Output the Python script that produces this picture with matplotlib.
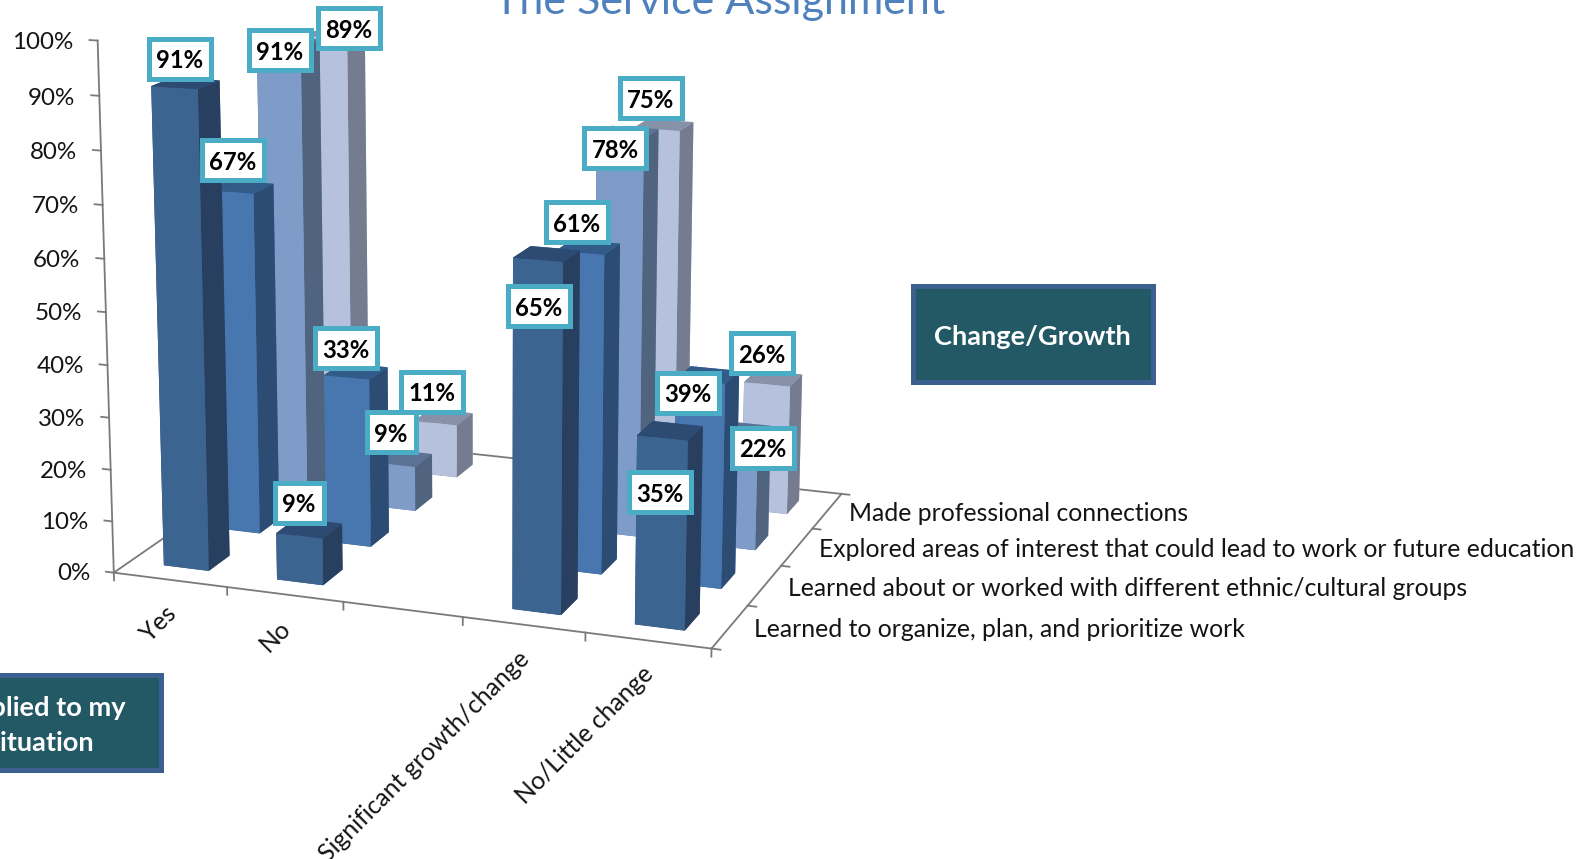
import matplotlib
matplotlib.use('Agg')
import matplotlib.pyplot as plt
from matplotlib.patches import Rectangle
from mpl_toolkits.mplot3d import proj3d

plt.rcParams['font.family'] = ['Lato', 'DejaVu Sans']

W, H = 1591, 859

categories = ['Yes', 'No', '', 'Significant growth/change', 'No/Little change']
series_names = ['Learned to organize, plan, and prioritize work',
                'Learned about or worked with different ethnic/cultural groups',
                'Explored areas of interest that could lead to work or future education',
                'Made professional connections']
organize = [91, 9, None, 65, 35]
ethnic = [67, 33, None, 61, 39]
explored = [91, 9, None, 78, 22]
connections = [89, 11, None, 75, 26]
z_ticks = [0, 10, 20, 30, 40, 50, 60, 70, 80, 90, 100]

rows = [organize, ethnic, explored, connections]

# label box centres in pixels, these were dragged by hand in the original
label_xy = [[(180, 59), (299, 503), None, (539, 306), (660, 492)],
            [(233, 160), (346, 348), None, (577, 222), (688, 393)],
            [(280, 50), (391, 432), None, (615, 148), (763, 448)],
            [(349, 28), (432, 392), None, (651, 98), (762, 353)]]

row_colors = [('#3c6491', '#283f5f', '#2c4a72'),
              ('#4877b0', '#2d4c73', '#325b8a'),
              ('#7f9bc8', '#50637f', '#5c7295'),
              ('#b6c2dd', '#757c90', '#8791a7')]
line_color = '#7a7a7a'
text_color = '#141414'
teal = '#4bacc6'


def px_text(x, y, s, **kw):
    return fig.text(x / W, 1 - y / H, s, **kw)


def px_box(x0, y0, x1, y1, **kw):
    r = Rectangle((x0 / W, 1 - y1 / H), (x1 - x0) / W, (y1 - y0) / H,
                  transform=fig.transFigure, **kw)
    fig.add_artist(r)


def data_px(x, y, z):
    # where a 3d data point lands, in pixels from the top left
    xs, ys, _ = proj3d.proj_transform(x, y, z, ax.get_proj())
    dx, dy = ax.transData.transform((xs, ys))
    return dx, H - dy


fig = plt.figure(figsize=(W / 100, H / 100), dpi=100)
side = 916.95
ax = fig.add_axes([20.34 / W, 107.71 / H, side / W, side / H], projection='3d', computed_zorder=False)
ax.set_xlim(0, 5, view_margin=0)
ax.set_ylim(0, 4, view_margin=0)
ax.set_zlim(0, 100, view_margin=0)
ax.view_init(14.1276, -69.9094)
ax.set_proj_type('persp', focal_length=0.6455)
ax.set_box_aspect((1, 0.8029, 0.8668))
ax.set_axis_off()
ax.apply_aspect()

# walls and floor edges
for xs, ys, zs in [([0, 0], [0, 0], [0, 100]), ([0, 5], [0, 0], [0, 0]), ([5, 5], [0, 4], [0, 0]),
                   ([0, 5], [4, 4], [0, 0]), ([0, 0], [0, 4], [0, 0])]:
    ax.plot(xs, ys, zs, color=line_color, lw=1.3, zorder=1, clip_on=False)

for z in z_ticks:
    ax.plot([-0.07, 0], [0, 0], [z, z], color=line_color, lw=1.3, zorder=1, clip_on=False)
    x, y = data_px(-0.21, 0, z)
    px_text(x, y + 4, '%d%%' % z, ha='right', va='center', fontsize=17.4, color=text_color)
for i in range(6):
    ax.plot([i, i], [0, 0], [0, -1.5], color=line_color, lw=1.3, zorder=1, clip_on=False)
for j in range(5):
    ax.plot([5, 5.07], [j, j], [0, 0], color=line_color, lw=1.3, zorder=1, clip_on=False)

order = 2
for j in range(3, -1, -1):
    front, face_side, top = row_colors[j]
    for i in range(5):
        if rows[j][i] is None:
            continue
        c = ax.bar3d(i + 0.3, j + 0.3, 0, 0.4, 0.4, rows[j][i], shade=False,
                     color=[top, top, front, front, face_side, face_side], zorder=order)
        c.set_clip_on(False)
        order += 1

for j, name in enumerate(series_names):
    x, y = data_px(5.19, j + 0.5, 0)
    px_text(x, y, name, ha='left', va='center', fontsize=17.8, color=text_color)

for i, name in enumerate(categories):
    if name == '':
        continue
    x, y = data_px(i + 0.5, 0, 0)
    px_text(x + 2, y + 30, name, rotation=45, rotation_mode='anchor', ha='right', va='center',
            fontsize=17.8, color=text_color)

for j in range(4):
    for i in range(5):
        v = rows[j][i]
        if v is None:
            continue
        x, y = label_xy[j][i]
        half = 31 if v >= 10 else 24.5
        px_box(x - half, y - 20, x + half, y + 20, facecolor='white', edgecolor=teal, linewidth=3.6, zorder=5)
        px_text(x, y, '%d%%' % v, ha='center', va='center_baseline', fontsize=17.2,
                fontweight='bold', color='black', zorder=6)

px_text(720, 14, 'The Service Assignment', ha='center', va='baseline', fontsize=31, color='#4f81bd')

px_box(912.5, 285.5, 1152.5, 381.5, facecolor='#235865', edgecolor='#3b5f8f', linewidth=3.6, zorder=2)
px_text(1032, 335, 'Change/Growth', ha='center', va='center_baseline', fontsize=19.6, fontweight='bold',
        color='white', zorder=3)

px_box(-20, 674.5, 160.5, 769.5, facecolor='#235865', edgecolor='#3b5f8f', linewidth=3.6, zorder=2)
px_text(41, 706, 'Applied to my', ha='center', va='center_baseline', fontsize=19.6, fontweight='bold',
        color='white', zorder=3)
px_text(41, 741, 'situation', ha='center', va='center_baseline', fontsize=19.6, fontweight='bold',
        color='white', zorder=3)

fig.savefig('out.png', dpi=100)
